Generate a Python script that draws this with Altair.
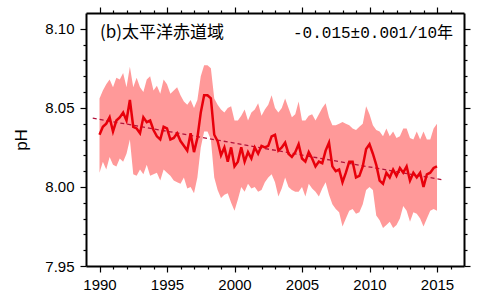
import altair as alt
import pandas as pd

# Quarterly sampling of the monthly record, 1990.00 - 2015.00
years = [1990 + q / 4 for q in range(101)]

ph_mean = [
    8.033, 8.038, 8.040, 8.044, 8.035, 8.042, 8.044, 8.047, 8.042, 8.055,
    8.038, 8.037, 8.034, 8.044, 8.041, 8.042, 8.036, 8.032, 8.030, 8.038,
    8.037, 8.030, 8.031, 8.034, 8.029, 8.026, 8.023, 8.034, 8.022, 8.031,
    8.047, 8.058, 8.058, 8.056, 8.033, 8.029, 8.020, 8.025, 8.016, 8.025,
    8.013, 8.016, 8.025, 8.016, 8.022, 8.018, 8.025, 8.021, 8.026, 8.025,
    8.026, 8.032, 8.033, 8.023, 8.025, 8.028, 8.021, 8.019, 8.022, 8.027,
    8.018, 8.016, 8.022, 8.018, 8.013, 8.016, 8.015, 8.023, 8.028, 8.013,
    8.010, 8.011, 8.003, 8.009, 8.016, 8.016, 8.006, 8.007, 8.013, 8.024,
    8.027, 8.021, 8.014, 8.004, 8.002, 8.009, 8.006, 8.011, 8.007, 8.012,
    8.009, 8.013, 8.004, 8.009, 8.006, 8.009, 8.000, 8.008, 8.009, 8.012,
    8.013,
]

ph_upper = [
    8.056, 8.061, 8.065, 8.068, 8.063, 8.069, 8.068, 8.072, 8.063, 8.076,
    8.063, 8.069, 8.063, 8.060, 8.068, 8.070, 8.061, 8.064, 8.059, 8.068,
    8.065, 8.059, 8.061, 8.063, 8.058, 8.054, 8.052, 8.055, 8.050, 8.055,
    8.070, 8.077, 8.077, 8.075, 8.056, 8.052, 8.049, 8.047, 8.050, 8.051,
    8.042, 8.042, 8.045, 8.049, 8.042, 8.047, 8.049, 8.053, 8.045, 8.049,
    8.052, 8.058, 8.050, 8.047, 8.050, 8.056, 8.050, 8.044, 8.046, 8.054,
    8.042, 8.042, 8.045, 8.046, 8.042, 8.046, 8.050, 8.053, 8.044, 8.039,
    8.039, 8.040, 8.041, 8.040, 8.039, 8.037, 8.036, 8.038, 8.040, 8.051,
    8.046, 8.039, 8.036, 8.035, 8.032, 8.037, 8.032, 8.035, 8.031, 8.032,
    8.037, 8.037, 8.031, 8.030, 8.035, 8.030, 8.035, 8.030, 8.030, 8.037,
    8.040,
]

ph_lower = [
    8.009, 8.016, 8.011, 8.019, 8.014, 8.013, 8.018, 8.016, 8.021, 8.030,
    8.008, 8.007, 8.011, 8.008, 8.014, 8.007, 8.008, 8.009, 8.004, 8.011,
    8.009, 8.007, 8.004, 8.003, 8.002, 8.006, 7.999, 8.000, 7.996, 8.006,
    8.025, 8.035, 8.035, 8.030, 8.006, 7.998, 7.993, 7.995, 7.996, 7.990,
    7.985, 7.992, 8.000, 7.997, 8.002, 7.999, 8.000, 7.997, 7.998, 8.003,
    8.006, 8.008, 8.003, 7.994, 7.999, 8.006, 8.000, 7.998, 7.997, 7.997,
    8.000, 7.994, 8.002, 7.999, 7.997, 7.994, 7.999, 8.003, 7.995, 7.989,
    7.986, 7.984, 7.975, 7.980, 7.985, 7.986, 7.983, 7.984, 7.989, 7.998,
    8.000, 7.998, 7.982, 7.979, 7.974, 7.976, 7.978, 7.974, 7.976, 7.980,
    7.988, 7.985, 7.978, 7.984, 7.983, 7.980, 7.975, 7.980, 7.985, 7.986,
    7.985,
]

# Linear trend (-0.015 per decade)
trend_years = [1989.5, 2015.4]
trend_ph = [8.0435, 8.0045]

# Tick positions
x_ticks = list(range(1990, 2017))
y_ticks = [7.95, 7.96, 7.97, 7.98, 7.99, 8.00, 8.01, 8.02, 8.03, 8.04,
           8.05, 8.06, 8.07, 8.08, 8.09, 8.10]

region_label = "(b)太平洋赤道域"
rate_label = "-0.015±0.001/10年"

series = pd.DataFrame({"year": years, "mean": ph_mean,
                       "upper": ph_upper, "lower": ph_lower})
trend = pd.DataFrame({"year": trend_years, "ph": trend_ph})

x_scale = alt.Scale(domain=[1989, 2017], nice=False, zero=False)
y_scale = alt.Scale(domain=[7.95, 8.11], nice=False, zero=False)

major_x = "datum.value % 5 === 0"
major_y = "abs(datum.value * 20 - round(datum.value * 20)) < 0.001"

frame = dict(domainColor="black", domainWidth=2, tickColor="black",
             tickWidth=1.2, grid=False, labelOverlap=False, labelBound=False,
             labelFlush=False, labelFont="Liberation Sans", labelFontSize=15,
             labelColor="black")

bottom_axis = alt.Axis(
    orient="bottom", values=x_ticks, title=None,
    labelExpr=f"{major_x} ? '' + datum.value : ''",
    tickSize={"condition": {"test": major_x, "value": 6}, "value": 3},
    labelPadding=5, **frame)
top_axis = alt.Axis(
    orient="top", values=x_ticks, title=None, labels=False,
    tickSize={"condition": {"test": major_x, "value": 6}, "value": 3},
    **frame)
left_axis = alt.Axis(
    orient="left", values=y_ticks, title="pH",
    titleFont="Liberation Sans", titleFontSize=17, titleFontWeight="normal",
    titleColor="black", titlePadding=14,
    labelExpr=f"{major_y} ? format(datum.value, '.2f') : ''",
    tickSize={"condition": {"test": major_y, "value": 6}, "value": 3},
    labelPadding=6, **frame)
right_axis = alt.Axis(
    orient="right", values=y_ticks, title=None, labels=False,
    tickSize={"condition": {"test": major_y, "value": 6}, "value": 3},
    **frame)

band = alt.Chart(series).mark_area(color="#ff9999", opacity=1).encode(
    x=alt.X("year:Q", scale=x_scale, axis=bottom_axis),
    y=alt.Y("lower:Q", scale=y_scale, axis=left_axis),
    y2="upper:Q",
)

trend_line = alt.Chart(trend).mark_line(
    color="#b3123a", strokeDash=[4, 3], strokeWidth=1.3
).encode(
    x=alt.X("year:Q", scale=x_scale, axis=top_axis),
    y=alt.Y("ph:Q", scale=y_scale, axis=right_axis),
)

mean_line = alt.Chart(series).mark_line(
    color="#e8000b", strokeWidth=2.5
).encode(
    x=alt.X("year:Q", scale=x_scale, axis=None),
    y=alt.Y("mean:Q", scale=y_scale, axis=None),
)

region_text = alt.Chart(pd.DataFrame({"t": [region_label]})).mark_text(
    align="left", baseline="middle", font="Noto Sans CJK JP",
    fontSize=17, color="black"
).encode(text="t:N", x=alt.value(14), y=alt.value(20))

rate_text = alt.Chart(pd.DataFrame({"t": [rate_label]})).mark_text(
    align="right", baseline="middle",
    font="Liberation Mono, Noto Sans CJK JP",
    fontSize=16, color="black"
).encode(text="t:N", x=alt.value(367), y=alt.value(20))

chart = (
    alt.layer(band, trend_line, mean_line, region_text, rate_text)
    .resolve_axis(x="independent", y="independent")
    .properties(
        width=378, height=253,
        padding={"left": 86, "top": 13, "right": 16, "bottom": 30},
        autosize=alt.AutoSizeParams(type="none"),
        background="white",
    )
    .configure_view(stroke=None)
)

chart.save("out.html", embed_options={"renderer": "svg", "actions": False})
